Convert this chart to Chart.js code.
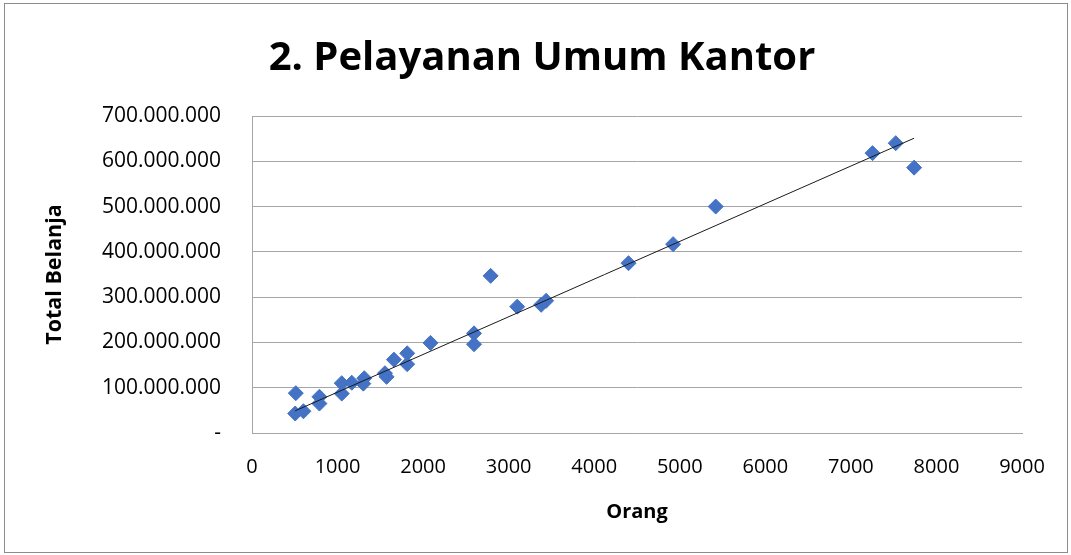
<!DOCTYPE html>
<html>
<head>
<meta charset="utf-8">
<script src="https://cdn.jsdelivr.net/npm/chart.js@4.4.1/dist/chart.umd.min.js"></script>
<style>
  body { margin: 0; background: #fff; }
  #wrap { position: relative; width: 1071px; height: 555px; }
  #frame { position: absolute; left: 4px; top: 3px; width: 1062px; height: 548px; border: 1px solid #8c8c8c; pointer-events: none; }
  canvas { position: absolute; left: 0; top: 0; }
</style>
</head>
<body>
<div id="wrap">
  <canvas id="chart" width="1071" height="555"></canvas>
  <div id="frame"></div>
</div>
<script>
  // data
  const orang = [505, 512, 601, 788, 788, 1049, 1049, 1166, 1312, 1301, 1554, 1573, 1659, 1814, 1814,
    2086, 2595, 2595, 2789, 3100, 3380, 3438, 4401, 4922, 5420, 7253, 7524, 7739];
  const totalBelanja = [43, 88, 48, 80, 65, 110, 87, 111, 121, 109, 132, 124, 162, 176, 152,
    199, 220, 196, 347, 279, 283, 292, 375, 417, 500, 618, 640, 586].map((v) => v * 1e6);
  const trendOrang = [505, 7739];
  const trendBelanja = [49e6, 651e6];

  const xTicks = [0, 1000, 2000, 3000, 4000, 5000, 6000, 7000, 8000, 9000];
  const yTicks = [0, 100e6, 200e6, 300e6, 400e6, 500e6, 600e6, 700e6];

  const FONT = "'Open Sans', sans-serif";

  function formatRupiah(value) {
    if (value === 0) return "-";
    return Math.round(value).toString().replace(/\B(?=(\d{3})+(?!\d))/g, ".");
  }

  const points = orang.map((x, i) => ({ x, y: totalBelanja[i] }));
  const trend = trendOrang.map((x, i) => ({ x, y: trendBelanja[i] }));

  new Chart(document.getElementById("chart"), {
    type: "scatter",
    data: {
      datasets: [
        {
          label: "Total Belanja",
          data: points,
          pointStyle: "rectRot",
          pointRadius: 7.5,
          backgroundColor: "#4472C4",
          borderColor: "#4472C4",
          borderWidth: 1,
          order: 1,
        },
        {
          type: "line",
          label: "Trend",
          data: trend,
          borderColor: "#1a1a1a",
          borderWidth: 1,
          pointRadius: 0,
          fill: false,
          order: 0,
        },
      ],
    },
    options: {
      responsive: false,
      animation: false,
      layout: { padding: { left: 13, right: 0, top: 0, bottom: 0 } },
      plugins: {
        legend: { display: false },
        tooltip: { enabled: false },
        title: {
          display: true,
          text: "2. Pelayanan Umum Kantor",
          color: "#000",
          font: { family: FONT, size: 40, weight: "bold" },
          padding: { top: 35, bottom: 33 },
        },
      },
      scales: {
        x: {
          type: "linear",
          min: 0,
          max: 9000,
          afterFit: (scale) => {
            scale.height = 122;
            scale.paddingRight = 49;
          },
          afterBuildTicks: (scale) => { scale.ticks = xTicks.map((v) => ({ value: v })); },
          grid: { display: false, drawTicks: false },
          border: { display: true, color: "#a6a6a6" },
          ticks: { color: "#000", padding: 22, font: { family: FONT, size: 20 }, callback: (v) => String(v) },
          title: {
            display: true,
            text: "Orang",
            color: "#000",
            font: { family: FONT, size: 20, weight: "bold" },
            padding: { top: 0, bottom: 31 },
          },
        },
        y: {
          type: "linear",
          min: 0,
          max: 700e6,
          afterFit: (scale) => { scale.width = 239; },
          afterBuildTicks: (scale) => { scale.ticks = yTicks.map((v) => ({ value: v })); },
          grid: { color: "#a6a6a6", drawTicks: false },
          border: { display: true, color: "#a6a6a6" },
          ticks: { color: "#000", padding: 31, font: { family: FONT, size: 21 }, callback: (v) => formatRupiah(v) },
          title: {
            display: true,
            text: "Total Belanja",
            color: "#000",
            font: { family: FONT, size: 21.5, weight: "bold" },
            padding: { top: 29, bottom: 0 },
          },
        },
      },
    },
  });
</script>
</body>
</html>
